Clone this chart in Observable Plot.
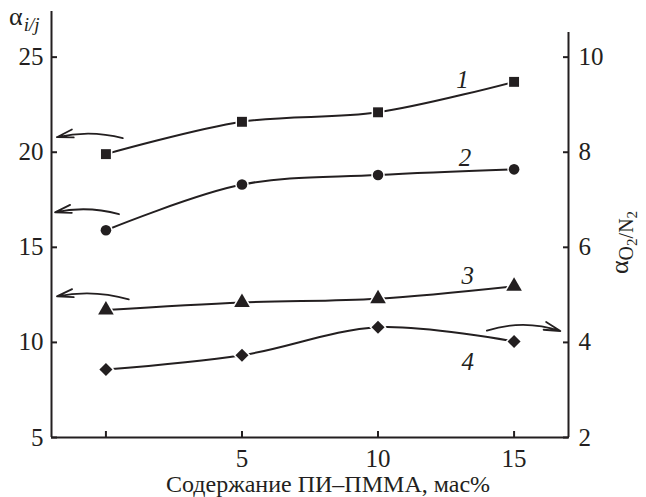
<!DOCTYPE html>
<html>
<head>
<meta charset="utf-8">
<script src="https://cdn.jsdelivr.net/npm/d3@7"></script>
<script src="https://cdn.jsdelivr.net/npm/@observablehq/plot@0.6"></script>
<style>
  html, body { margin: 0; padding: 0; background: #fff; }
  #chart svg { display: block; }
</style>
</head>
<body>
<div id="chart"></div>
<script>
// ---- data ----
const content = [0, 5, 10, 15];            // ПИ–ПММА, мас%
const series1 = [19.9, 21.6, 22.1, 23.7];  // left axis
const series2 = [15.9, 18.3, 18.8, 19.1];  // left axis
const series3 = [11.7, 12.1, 12.3, 12.95]; // left axis
const series4 = [3.43, 3.73, 4.32, 4.02];  // right axis (αO2/N2)
const leftTicks = [5, 10, 15, 20, 25];
const rightTicks = [2, 4, 6, 8, 10];
const xTicks = [0, 5, 10, 15];
const xTickLabels = [5, 10, 15];
const seriesNames = ["1", "2", "3", "4"];
const seriesLabelPos = [[13.1, 23.8], [13.2, 19.7], [13.3, 13.5], [13.3, 8.95]];
const arrowsLeft = [
  {x1: 0.62, y1: 20.74, x2: -1.8, y2: 20.79},
  {x1: 0.48, y1: 16.74, x2: -1.87, y2: 16.84},
  {x1: 0.84, y1: 12.26, x2: -1.8, y2: 12.42}
];
const arrowsRight = [
  {x1: 14.0, y1: 10.62, x2: 16.7, y2: 10.6}
];
const ratio = 2.5; // left value = right value * ratio

const ink = "#231f20";
const serif = "Liberation Serif";

const rows = [];
const toRows = (vals, name, sym, scale) => vals.forEach((v, i) => rows.push({x: content[i], y: v * scale, s: name, sym}));
toRows(series1, "1", "square", 1);
toRows(series2, "2", "circle", 1);
toRows(series3, "3", "triangle", 1);
toRows(series4, "4", "diamond", ratio);

const labels = seriesNames.map((n, i) => ({n, x: seriesLabelPos[i][0], y: seriesLabelPos[i][1]}));

const plot = Plot.plot({
  width: 646,
  height: 497,
  marginLeft: 51,
  marginRight: 78,
  marginTop: 11,
  marginBottom: 60,
  style: {color: ink, background: "#fff"},
  x: {domain: [-2, 17], axis: null},
  y: {domain: [5, 27.4], axis: null},
  marks: [
    // frame lines
    Plot.ruleX([-2], {y1: 5, y2: 27.4, stroke: ink, strokeWidth: 2}),
    Plot.ruleX([17], {y1: 5, y2: 26.3, stroke: ink, strokeWidth: 2}),
    Plot.ruleY([5], {x1: -2, x2: 17, stroke: ink, strokeWidth: 2}),
    // ticks (inward)
    Plot.axisY(leftTicks, {anchor: "left", tickSize: -6, text: null, label: null, stroke: ink, strokeWidth: 2}),
    Plot.axisY(leftTicks, {anchor: "left", tickSize: 0, tickPadding: 8, fontSize: 25, fill: ink, label: null}),
    Plot.axisY(leftTicks, {anchor: "right", tickSize: -6, text: null, label: null, stroke: ink, strokeWidth: 2}),
    Plot.axisY(rightTicks.map(d => d * ratio), {anchor: "right", tickSize: 0, tickPadding: 10, fontSize: 25, fill: ink, tickFormat: d => String(d / ratio), label: null}),
    Plot.axisX(xTicks, {anchor: "bottom", tickSize: -6, text: null, label: null, stroke: ink, strokeWidth: 2}),
    Plot.axisX(xTickLabels, {anchor: "bottom", tickSize: 0, tickPadding: 12, fontSize: 25, fill: ink, label: null}),
    // curves
    Plot.line(rows, {x: "x", y: "y", z: "s", curve: "catmull-rom", stroke: ink, strokeWidth: 2}),
    Plot.dot(rows.filter(d => d.sym === "square"), {x: "x", y: "y", symbol: "square", r: 5.6, fill: ink, stroke: "#fff", strokeWidth: 3, paintOrder: "stroke"}),
    Plot.dot(rows.filter(d => d.sym === "circle"), {x: "x", y: "y", symbol: "circle", r: 5.3, fill: ink, stroke: "#fff", strokeWidth: 3, paintOrder: "stroke"}),
    Plot.dot(rows.filter(d => d.sym === "triangle"), {x: "x", y: "y", symbol: "triangle", r: 5.8, fill: ink, stroke: "#fff", strokeWidth: 3, paintOrder: "stroke"}),
    Plot.dot(rows.filter(d => d.sym === "diamond"), {x: "x", y: "y", symbol: "square", rotate: 45, r: 5.2, fill: ink, stroke: "#fff", strokeWidth: 3, paintOrder: "stroke"}),
    // series labels
    Plot.text(labels, {x: "x", y: "y", text: "n", fontSize: 25, fontStyle: "italic", fill: ink}),
    // arrows
    Plot.arrow(arrowsLeft, {x1: "x1", y1: "y1", x2: "x2", y2: "y2", bend: -14, stroke: ink, strokeWidth: 1.8, headLength: 14, headAngle: 28}),
    Plot.arrow(arrowsRight, {x1: "x1", y1: "y1", x2: "x2", y2: "y2", bend: 18, stroke: ink, strokeWidth: 1.8, headLength: 14, headAngle: 28})
  ]
});

const svg = d3.select(plot);
// x axis title
svg.append("text")
  .attr("x", 328).attr("y", 492)
  .attr("text-anchor", "middle")
  .attr("font-size", 24).attr("fill", ink)
  .text("Содержание ПИ–ПММА, мас%");
// left title α_{i/j}
const lt = svg.append("text")
  .attr("x", 9).attr("y", 25)
  .attr("text-anchor", "start")
  .attr("font-size", 26).attr("fill", ink);
lt.append("tspan").text("α");
lt.append("tspan").attr("font-size", 19).attr("font-style", "italic").attr("dy", 6).attr("dx", 1).text("i/j");
// right title α_{O2/N2}
const rt = svg.append("text")
  .attr("transform", "translate(628,274) rotate(-90)")
  .attr("text-anchor", "start")
  .attr("font-size", 26).attr("fill", ink);
rt.append("tspan").text("α");
rt.append("tspan").attr("font-size", 20).attr("dy", 5).text("O");
rt.append("tspan").attr("font-size", 15).attr("dy", 4).text("2");
rt.append("tspan").attr("font-size", 20).attr("dy", -4).text("/N");
rt.append("tspan").attr("font-size", 15).attr("dy", 4).text("2");

// force serif font on every text
svg.selectAll("text, tspan").style("font-family", serif);
svg.style("font-family", serif);

document.getElementById("chart").appendChild(plot);
</script>
</body>
</html>
